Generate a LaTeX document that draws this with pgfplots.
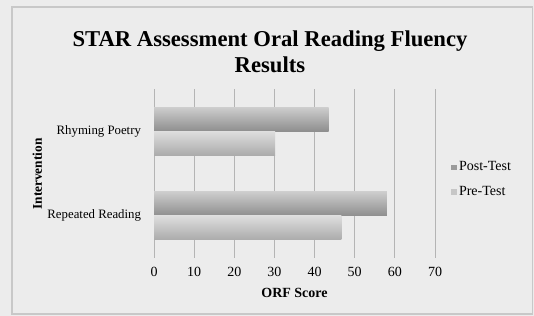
\documentclass[border=0pt]{standalone}
\usepackage{pgfplots}
\pgfplotsset{compat=1.18}
\usepackage{fontspec}
\setmainfont{Liberation Serif}
\definecolor{bgc}{HTML}{ECECEC}
\definecolor{framec}{HTML}{C8C8C8}
\definecolor{gridc}{HTML}{B4B4B4}
\definecolor{posttop}{HTML}{CDCDCD}
\definecolor{postbot}{HTML}{8E8E8E}
\definecolor{pretop}{HTML}{DEDEDE}
\definecolor{prebot}{HTML}{ABABAB}
\definecolor{postleg}{HTML}{9A9A9A}
\definecolor{preleg}{HTML}{C6C6C6}
\begin{document}
\begin{tikzpicture}
\fill[bgc] (0,0) rectangle (400.5pt,237pt);
\draw[framec,line width=0.8pt] (9pt,1.5pt) rectangle (399.5pt,231.75pt);
\node[font=\bfseries\fontsize{17}{19.5}\selectfont,align=center] at (202.5pt,198pt) {STAR Assessment Oral Reading Fluency\\Results};
\begin{axis}[
  at={(115.5pt,43.5pt)}, anchor=south west,
  scale only axis, width=210.75pt, height=126.75pt,
  xbar, bar width=18pt,
  xmin=0, xmax=70, xtick={0,10,...,70},
  ymin=-0.5, ymax=1.5, ytick={0,1},
  yticklabels={Repeated Reading, Rhyming Poetry},
  axis line style={draw=none},
  xmajorgrids, major grid style={gridc, line width=0.6pt},
  tick style={draw=none},
  xticklabel style={font=\fontsize{10.5}{12}\selectfont, yshift=-3pt},
  yticklabel style={font=\fontsize{9.6}{12}\selectfont, xshift=-2pt},
  /pgf/number format/assume math mode=true,
  xlabel={\textbf{ORF Score}}, ylabel={\textbf{Intervention}},
  label style={font=\fontsize{10.5}{12}\selectfont},
  xlabel style={yshift=-2pt},
  every axis y label/.style={at={(axis description cs:-0.415,0.497)}, rotate=90, anchor=center},
  legend style={at={(1.04,0.465)}, anchor=west, draw=none, fill=none,
    font=\fontsize{10.5}{12}\selectfont, row sep=6pt},
  legend cell align=left,
  clip=false,
]
\draw[gridc, line width=0.6pt] (axis cs:0,-0.5) -- (axis cs:0,1.5);
\addlegendimage{legend image code/.code={\fill[postleg] (0pt,-1.6pt) rectangle (4pt,1.6pt);}}
\addlegendentry{Post-Test}
\addlegendimage{legend image code/.code={\fill[preleg] (0pt,-1.6pt) rectangle (4pt,1.6pt);}}
\addlegendentry{Pre-Test}
\addplot[forget plot, draw=none, top color=posttop, bottom color=postbot, bar shift=9pt]
  coordinates {(58,0)};
\addplot[forget plot, draw=none, top color=posttop, bottom color=postbot, bar shift=9pt]
  coordinates {(43.5,1)};
\addplot[forget plot, draw=none, top color=pretop, bottom color=prebot, bar shift=-9pt]
  coordinates {(46.7,0)};
\addplot[forget plot, draw=none, top color=pretop, bottom color=prebot, bar shift=-9pt]
  coordinates {(30.2,1)};
\end{axis}
\end{tikzpicture}
\end{document}
